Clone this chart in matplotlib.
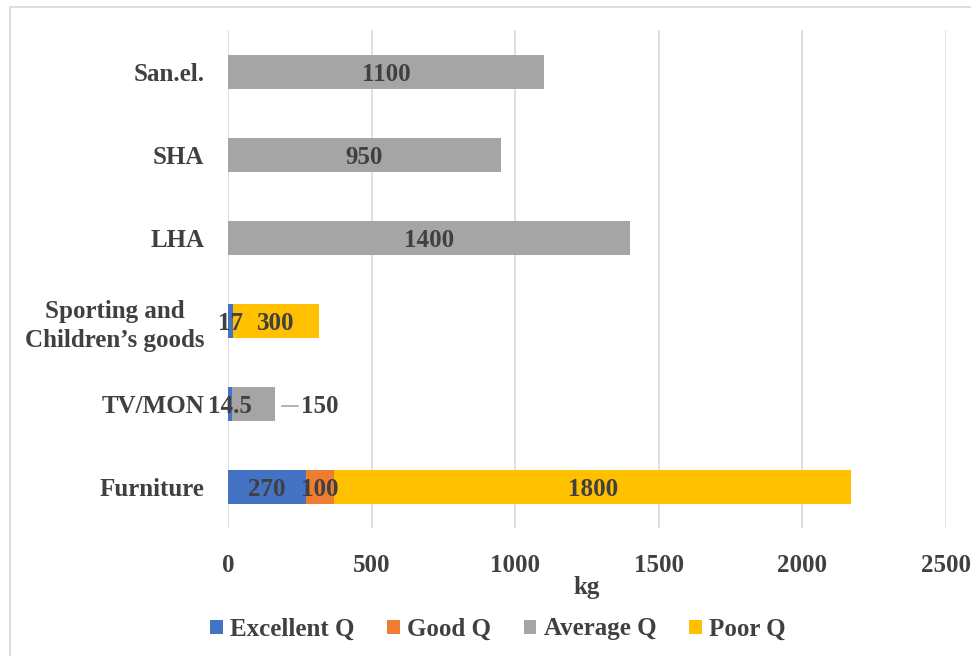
import matplotlib
matplotlib.use("Agg")
import matplotlib.pyplot as plt
from matplotlib.patches import Rectangle

# данные с картинки (снизу вверх)
categories = ['Furniture', 'TV/MON', "Sporting and\nChildren\u2019s goods", 'LHA', 'SHA', 'San.el.']
excellent = [270, 14.5, 17, 0, 0, 0]
good = [100, 0, 0, 0, 0, 0]
average = [0, 150, 0, 1400, 950, 1100]
poor = [1800, 0, 300, 0, 0, 0]

series_names = ['Excellent Q', 'Good Q', 'Average Q', 'Poor Q']
series_colors = ['#4472C4', '#ED7D31', '#A5A5A5', '#FFC000']
x_ticks = [0, 500, 1000, 1500, 2000, 2500]

txt = '#404040'
plt.rcParams['font.family'] = ['Liberation Serif', 'DejaVu Serif']
plt.rcParams['font.weight'] = 'bold'
plt.rcParams['axes.labelweight'] = 'bold'
plt.rcParams['font.size'] = 18

fig = plt.figure(figsize=(9.71, 6.56), dpi=100)
ax = fig.add_axes([228 / 971, 0.195, (946 - 228) / 971, 0.954 - 0.195])

# рамка вокруг всего графика
fig.patches.append(Rectangle((10 / 971, -0.1), 1.2, 1.1 - 7 / 656, transform=fig.transFigure,
                             fill=False, edgecolor='#D9D9D9', lw=1.2))

y = list(range(len(categories)))
left = [0] * len(categories)
bar_h = 0.41
for name, vals, col in zip(series_names, [excellent, good, average, poor], series_colors):
    ax.barh(y, vals, left=left, height=bar_h, color=col, label=name, zorder=2)
    for i, v in enumerate(vals):
        if v == 0:
            continue
        lab = f"{v:g}"
        if name == 'Average Q' and categories[i] == 'TV/MON':
            # подпись вынесена наружу с выноской
            end = left[i] + v
            ax.plot([end + 25, end + 80], [i - 0.03, i - 0.03], color='#A6A6A6', lw=1.2, zorder=3)
            ax.text(end + 88, i, lab, ha='left', va='center_baseline', color=txt, zorder=4)
        else:
            ax.text(left[i] + v / 2, i, lab, ha='center', va='center_baseline', color=txt, zorder=4)
    left = [l + v for l, v in zip(left, vals)]

ax.set_xlim(0, 2500)
ax.set_ylim(-0.5, len(categories) - 0.5)
ax.set_xticks(x_ticks)
ax.set_yticks(y)
ax.set_yticklabels(categories, multialignment='center', linespacing=1.3)
ax.tick_params(axis='both', length=0, colors=txt)
ax.tick_params(axis='y', pad=17)
ax.tick_params(axis='x', pad=19)
ax.xaxis.grid(True, color='#D9D9D9', lw=1.2, zorder=0)
ax.set_axisbelow(True)
for s in ax.spines.values():
    s.set_visible(False)
ax.set_xlabel('kg', color=txt, labelpad=-1)

ax.legend(loc='center', bbox_to_anchor=(498 / 971, 1 - 629 / 656), bbox_transform=fig.transFigure,
          ncol=4, frameon=False, handlelength=0.5, handleheight=0.5, handletextpad=0.3,
          columnspacing=1.3, labelcolor=txt)

fig.savefig('out.png', dpi=100)
